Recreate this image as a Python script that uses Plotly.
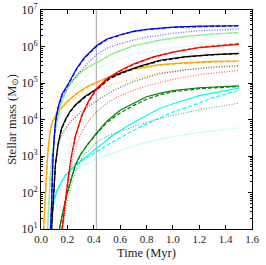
import plotly.graph_objects as go

# ---------------- data (time in Myr, stellar mass in Msun) ----------------
blue_solid_t = [0.074, 0.08, 0.09, 0.10, 0.11, 0.13, 0.16, 0.21, 0.27, 0.33, 0.42, 0.50, 0.60, 0.70, 0.80, 1.00, 1.20, 1.50]
blue_solid_m = [1.0e1, 8e1, 8e2, 3.2e3, 9e3, 2.2e4, 5e4, 1.0e5, 2.5e5, 5e5, 1.05e6, 1.6e6, 2.1e6, 2.6e6, 2.95e6, 3.4e6, 3.6e6, 3.7e6]
blue_dash_t = [0.074, 0.08, 0.09, 0.10, 0.11, 0.13, 0.16, 0.21, 0.27, 0.33, 0.42, 0.50, 0.60, 0.70, 0.80, 1.00, 1.20, 1.50]
blue_dash_m = [1.0e1, 7e1, 7.5e2, 3.0e3, 8.5e3, 2.1e4, 4.8e4, 9.5e4, 2.4e5, 4.8e5, 1.0e6, 1.55e6, 2.05e6, 2.55e6, 2.9e6, 3.35e6, 3.55e6, 3.7e6]
blue_dot_t = [0.074, 0.08, 0.09, 0.10, 0.11, 0.13, 0.16, 0.21, 0.27, 0.33, 0.42, 0.50, 0.60, 0.70, 0.80, 1.00, 1.20, 1.50]
blue_dot_m = [1.0e1, 7e1, 7e2, 2.5e3, 7e3, 1.8e4, 4e4, 8e4, 1.6e5, 2.8e5, 6e5, 9e5, 1.2e6, 1.5e6, 1.8e6, 2.3e6, 2.7e6, 3.0e6]

lgreen_solid_t = [0.05, 0.06, 0.07, 0.08, 0.09, 0.10, 0.12, 0.15, 0.19, 0.23, 0.30, 0.36, 0.42, 0.55, 0.70, 0.90, 1.10, 1.30, 1.50]
lgreen_solid_m = [1.0e1, 6e1, 2.5e2, 7e2, 1.6e3, 3.2e3, 9e3, 2.5e4, 6.3e4, 1.1e5, 2.0e5, 2.8e5, 3.6e5, 6.6e5, 1.05e6, 1.5e6, 1.9e6, 2.2e6, 2.4e6]
lgreen_dash_t = [0.05, 0.06, 0.07, 0.08, 0.09, 0.10, 0.12, 0.15, 0.19, 0.23, 0.30, 0.36, 0.42, 0.55, 0.70, 0.90, 1.10, 1.30, 1.50]
lgreen_dash_m = [1.0e1, 6e1, 2.5e2, 7e2, 1.6e3, 3.1e3, 8.8e3, 2.4e4, 6.0e4, 1.05e5, 1.9e5, 2.7e5, 3.5e5, 6.4e5, 1.02e6, 1.48e6, 1.88e6, 2.2e6, 2.4e6]
lgreen_dot_t = [0.05, 0.06, 0.07, 0.08, 0.09, 0.10, 0.12, 0.15, 0.20, 0.25, 0.30, 0.36, 0.42, 0.55, 0.70, 0.90, 1.10, 1.30, 1.50]
lgreen_dot_m = [1.0e1, 6e1, 2.5e2, 7e2, 1.6e3, 2.8e3, 7e3, 1.8e4, 4e4, 7e4, 1.1e5, 1.7e5, 2.4e5, 4.2e5, 6e5, 8.3e5, 1.0e6, 1.15e6, 1.26e6]

orange_solid_t = [0.02, 0.03, 0.04, 0.05, 0.06, 0.075, 0.09, 0.11, 0.15, 0.20, 0.27, 0.35, 0.42, 0.55, 0.70, 0.90, 1.10, 1.30, 1.50]
orange_solid_m = [1.0e1, 6e1, 3.2e2, 1.0e3, 2.5e3, 6.3e3, 9e3, 1.3e4, 2.0e4, 3.2e4, 5.2e4, 8e4, 1.05e5, 1.66e5, 2.4e5, 3.2e5, 3.6e5, 3.9e5, 4.0e5]
orange_dash_t = [0.02, 0.03, 0.04, 0.05, 0.06, 0.075, 0.09, 0.11, 0.15, 0.20, 0.27, 0.35, 0.42, 0.55, 0.70, 0.90, 1.10, 1.30, 1.50]
orange_dash_m = [1.0e1, 6e1, 3.2e2, 1.0e3, 2.5e3, 6.3e3, 9e3, 1.3e4, 2.0e4, 3.1e4, 5.0e4, 7.8e4, 1.0e5, 1.6e5, 2.35e5, 3.1e5, 3.5e5, 3.8e5, 3.95e5]
orange_dot_t = [0.02, 0.03, 0.04, 0.05, 0.06, 0.075, 0.09, 0.11, 0.15, 0.20, 0.30, 0.42, 0.55, 0.70, 0.90, 1.10, 1.30, 1.50]
orange_dot_m = [1.0e1, 6e1, 3.2e2, 1.0e3, 2.5e3, 6.3e3, 9e3, 1.25e4, 1.9e4, 2.8e4, 4.5e4, 6.6e4, 9.5e4, 1.3e5, 1.9e5, 2.3e5, 2.6e5, 2.8e5]

black_solid_t = [0.08, 0.09, 0.10, 0.11, 0.13, 0.155, 0.185, 0.22, 0.26, 0.33, 0.42, 0.52, 0.62, 0.75, 0.90, 1.10, 1.30, 1.50]
black_solid_m = [1.0e1, 4e1, 1.6e2, 6.3e2, 2.2e3, 5.6e3, 1.0e4, 1.66e4, 2.5e4, 4.2e4, 6.8e4, 1.4e5, 2.0e5, 2.9e5, 4.2e5, 5.3e5, 6.0e5, 6.5e5]
black_dash_t = [0.08, 0.09, 0.10, 0.11, 0.13, 0.155, 0.185, 0.22, 0.26, 0.33, 0.42, 0.52, 0.62, 0.75, 0.90, 1.10, 1.30, 1.50]
black_dash_m = [1.0e1, 4e1, 1.6e2, 6.0e2, 2.1e3, 5.3e3, 9.5e3, 1.6e4, 2.4e4, 4.0e4, 6.5e4, 1.3e5, 1.9e5, 2.8e5, 4.0e5, 5.2e5, 5.9e5, 6.4e5]
black_dot_t = [0.08, 0.09, 0.10, 0.11, 0.13, 0.16, 0.21, 0.30, 0.42, 0.55, 0.70, 0.90, 1.10, 1.30, 1.50]
black_dot_m = [1.0e1, 4e1, 1.6e2, 5.6e2, 1.8e3, 4e3, 7.6e3, 1.6e4, 3.2e4, 6.3e4, 1.1e5, 1.8e5, 2.3e5, 2.75e5, 3.0e5]

red_solid_t = [0.16, 0.175, 0.19, 0.21, 0.23, 0.26, 0.31, 0.36, 0.42, 0.50, 0.60, 0.70, 0.85, 1.00, 1.20, 1.50]
red_solid_m = [1.0e1, 3.2e1, 9e1, 3.2e2, 1.0e3, 3.5e3, 1.3e4, 3.2e4, 7e4, 1.3e5, 2.2e5, 3.3e5, 5.2e5, 7e5, 9.3e5, 1.15e6]
red_dash_t = [0.16, 0.175, 0.19, 0.21, 0.23, 0.26, 0.31, 0.36, 0.42, 0.50, 0.60, 0.70, 0.85, 1.00, 1.20, 1.50]
red_dash_m = [1.0e1, 3.2e1, 9e1, 3.0e2, 9.5e2, 3.3e3, 1.25e4, 3.0e4, 6.6e4, 1.25e5, 2.1e5, 3.2e5, 5.0e5, 7e5, 9.5e5, 1.2e6]
red_dot_t = [0.165, 0.18, 0.20, 0.22, 0.25, 0.30, 0.36, 0.42, 0.50, 0.60, 0.70, 0.80, 1.00, 1.20, 1.50]
red_dot_m = [1.0e1, 3.2e1, 1.0e2, 3.5e2, 1.26e3, 4e3, 9e3, 1.6e4, 2.8e4, 4.5e4, 6.3e4, 8.3e4, 1.26e5, 1.7e5, 2.2e5]

green_solid_t = [0.14, 0.16, 0.18, 0.20, 0.23, 0.26, 0.30, 0.35, 0.42, 0.50, 0.60, 0.70, 0.80, 0.90, 1.00, 1.20, 1.50]
green_solid_m = [1.0e1, 2.5e1, 5e1, 1.0e2, 2.5e2, 5.6e2, 1.1e3, 2.0e3, 4.2e3, 9e3, 1.8e4, 2.8e4, 4.2e4, 5.2e4, 6.2e4, 7.4e4, 8.3e4]
green_dash_t = [0.14, 0.16, 0.18, 0.20, 0.23, 0.26, 0.30, 0.35, 0.42, 0.50, 0.60, 0.70, 0.80, 0.90, 1.00, 1.20, 1.50]
green_dash_m = [1.0e1, 2.5e1, 5e1, 1.0e2, 2.5e2, 5.6e2, 1.1e3, 2.0e3, 4.0e3, 8.3e3, 1.5e4, 2.4e4, 3.6e4, 4.7e4, 5.7e4, 7.0e4, 8.0e4]
green_dot_t = [0.16, 0.18, 0.20, 0.23, 0.27, 0.32, 0.42, 0.50, 0.60, 0.70, 0.85, 1.00, 1.20, 1.50]
green_dot_m = [1.0e1, 2.5e1, 5.6e1, 1.6e2, 4.5e2, 1.0e3, 2.3e3, 3.5e3, 4.8e3, 6.3e3, 9.5e3, 1.3e4, 1.85e4, 2.8e4]

cyan_solid_t = [0.07, 0.08, 0.10, 0.12, 0.145, 0.18, 0.25, 0.32, 0.42, 0.55, 0.70, 0.80, 0.90, 1.00, 1.20, 1.50]
cyan_solid_m = [1.0e1, 2.5e1, 6.3e1, 1.1e2, 1.66e2, 2.8e2, 5.2e2, 8.3e2, 1.6e3, 3.8e3, 8.3e3, 1.3e4, 2.0e4, 2.7e4, 4.5e4, 7.2e4]
cyan_dash_t = [0.07, 0.08, 0.10, 0.12, 0.145, 0.18, 0.25, 0.32, 0.42, 0.55, 0.70, 0.80, 1.00, 1.13, 1.30, 1.50]
cyan_dash_m = [1.0e1, 2.5e1, 6.3e1, 1.1e2, 1.66e2, 2.8e2, 5.0e2, 7.8e2, 1.3e3, 2.5e3, 5.0e3, 7.6e3, 1.6e4, 2.3e4, 3.9e4, 6.3e4]
cyan_dot_t = [0.07, 0.08, 0.10, 0.12, 0.145, 0.16, 0.20, 0.30, 0.42, 0.55, 0.70, 0.85, 1.00, 1.20, 1.50]
cyan_dot_m = [1.0e1, 2.5e1, 6.3e1, 1.1e2, 1.6e2, 2.0e2, 2.8e2, 5.0e2, 8.3e2, 1.2e3, 1.9e3, 2.6e3, 3.4e3, 4.4e3, 5.9e3]

vline_time = 0.42
x_ticks = [0.0, 0.2, 0.4, 0.6, 0.8, 1.0, 1.2, 1.4, 1.6]
y_ticks = [1e1, 1e2, 1e3, 1e4, 1e5, 1e6, 1e7]
y_ticktext = ["10<sup>1</sup>", "10<sup>2</sup>", "10<sup>3</sup>", "10<sup>4</sup>",
              "10<sup>5</sup>", "10<sup>6</sup>", "10<sup>7</sup>"]

# ---------------- figure ----------------
series = [
    ("#00ffff", cyan_solid_t, cyan_solid_m, cyan_dash_t, cyan_dash_m, cyan_dot_t, cyan_dot_m),
    ("#008000", green_solid_t, green_solid_m, green_dash_t, green_dash_m, green_dot_t, green_dot_m),
    ("#ffa500", orange_solid_t, orange_solid_m, orange_dash_t, orange_dash_m, orange_dot_t, orange_dot_m),
    ("#000000", black_solid_t, black_solid_m, black_dash_t, black_dash_m, black_dot_t, black_dot_m),
    ("#ff0000", red_solid_t, red_solid_m, red_dash_t, red_dash_m, red_dot_t, red_dot_m),
    ("#90ee90", lgreen_solid_t, lgreen_solid_m, lgreen_dash_t, lgreen_dash_m, lgreen_dot_t, lgreen_dot_m),
    ("#0000ff", blue_solid_t, blue_solid_m, blue_dash_t, blue_dash_m, blue_dot_t, blue_dot_m),
]

fig = go.Figure()
fig.add_vline(x=vline_time, line=dict(color="#b8b8b8", width=1.3), layer="below")

for color, ts, ms, td, md, to, mo in series:
    fig.add_trace(go.Scatter(x=to, y=mo, mode="lines", opacity=0.6,
                             line=dict(color=color, width=1.2, dash="1px,1.6px", shape="linear"),
                             showlegend=False, hoverinfo="skip"))
    fig.add_trace(go.Scatter(x=td, y=md, mode="lines",
                             line=dict(color=color, width=1.2, dash="4px,2px", shape="linear"),
                             showlegend=False, hoverinfo="skip"))
    fig.add_trace(go.Scatter(x=ts, y=ms, mode="lines",
                             line=dict(color=color, width=1.2, shape="linear"),
                             showlegend=False, hoverinfo="skip"))

font_family = "Liberation Serif, DejaVu Serif, serif"
fig.update_layout(
    width=266, height=265,
    margin=dict(l=41, r=14, t=10, b=36, autoexpand=False),
    paper_bgcolor="white", plot_bgcolor="white",
    font=dict(family=font_family, size=11, color="#222"),
    xaxis=dict(range=[0, 1.6], tickvals=x_ticks, tickformat=".1f", automargin=False,
               showgrid=False, zeroline=False, showline=True, linecolor="black", linewidth=1,
               mirror="ticks", ticks="inside", ticklen=4, tickcolor="black",
               title=dict(text="Time (Myr)", font=dict(size=12.5), standoff=4),
               tickfont=dict(size=11)),
    yaxis=dict(type="log", range=[1, 7], tickvals=y_ticks, ticktext=y_ticktext, automargin=False,
               showgrid=False, zeroline=False, showline=True, linecolor="black", linewidth=1,
               mirror="ticks", ticks="inside", ticklen=4, tickcolor="black",
               minor=dict(ticks="inside", ticklen=2, dtick="D1", tickcolor="black", showgrid=False),
               title=dict(text="Stellar mass (M<sub>⊙</sub>)", font=dict(size=12.5), standoff=2),
               tickfont=dict(size=12)),
)

fig.write_html("out.html", config={"displayModeBar": False},
               post_script="document.body.style.margin='0';document.body.style.padding='0';")
